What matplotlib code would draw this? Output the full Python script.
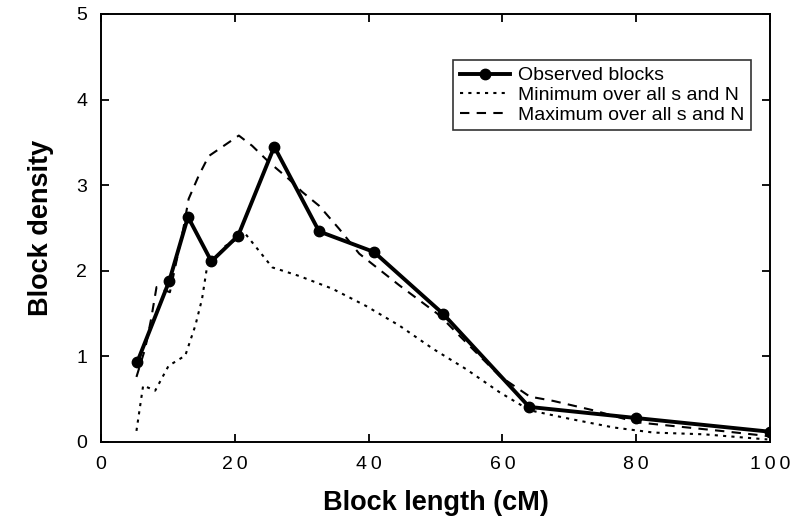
import matplotlib
matplotlib.use("Agg")
import matplotlib.pyplot as plt

plt.rcParams['font.family'] = ['Liberation Sans', 'DejaVu Sans']

# Observed blocks
obs_x = [5.4, 10.2, 13.0, 16.5, 20.5, 25.9, 32.6, 40.8, 51.1, 64.0, 80.0, 100.0]
obs_y = [0.93, 1.88, 2.63, 2.11, 2.41, 3.45, 2.46, 2.22, 1.50, 0.41, 0.28, 0.12]

# Minimum over all s and N (dotted)
min_x = [5.3, 6.3, 8.1, 10.1, 12.6, 14.1, 15.1, 15.8, 18.6, 21.6, 25.6, 29.6, 34.6,
         39.6, 44.6, 49.6, 54.6, 59.6, 64.1, 70.1, 76.6, 82.6, 90.1, 99.6]
min_y = [0.13, 0.66, 0.60, 0.89, 1.01, 1.36, 1.67, 2.02, 2.29, 2.43, 2.04, 1.94, 1.79,
         1.59, 1.36, 1.09, 0.85, 0.58, 0.37, 0.27, 0.17, 0.11, 0.09, 0.03]

# Maximum over all s and N (dashed)
max_x = [5.3, 6.6, 7.5, 8.3, 10.3, 12.3, 13.1, 14.6, 16.1, 17.6, 20.6, 22.6, 25.1,
         28.1, 30.1, 32.6, 35.6, 38.6, 44.6, 50.6, 53.6, 59.6, 64.1, 67.6, 73.6,
         80.1, 87.6, 92.6, 99.6]
max_y = [0.76, 1.09, 1.44, 1.81, 1.75, 2.49, 2.84, 3.11, 3.34, 3.42, 3.58, 3.46, 3.27,
         3.07, 2.92, 2.76, 2.49, 2.20, 1.83, 1.48, 1.24, 0.77, 0.53, 0.48, 0.37,
         0.23, 0.17, 0.13, 0.07]

x_ticks = [0, 20, 40, 60, 80, 100]
x_tick_labels = ['0', '2\u20090', '4\u20090', '6\u20090', '8\u20090', '1\u20090\u20090']
y_ticks = [0, 1, 2, 3, 4, 5]

fig = plt.figure(figsize=(7.97, 5.27), dpi=100)
ax = fig.add_axes([101/797, (527-442)/527, (770-101)/797, (442-14)/527])

ax.plot(obs_x, obs_y, color='black', lw=2.8, marker='o', ms=7.5,
        label='Observed blocks', zorder=3)
ax.plot(min_x, min_y, color='black', lw=1.5, linestyle=(0, (1.5, 2.5)),
        label='Minimum over all s and N', zorder=2)
ax.plot(max_x, max_y, color='black', lw=1.5, linestyle=(0, (4.5, 3.5)),
        label='Maximum over all s and N', zorder=2)

ax.set_xlim(0, 100)
ax.set_ylim(0, 5)
ax.set_xticks(x_ticks)
ax.set_xticklabels(x_tick_labels)
ax.set_yticks(y_ticks)
ax.tick_params(direction='in', length=6, width=1.3, labelsize=14,
               top=True, right=True, pad=10)
for s in ax.spines.values():
    s.set_linewidth(1.4)

ax.set_xlabel('Block length (cM)', fontsize=19.5, fontweight='bold', labelpad=12)
ax.set_ylabel('Block density', fontsize=19.5, fontweight='bold', labelpad=16)

leg = ax.legend(loc='upper left', bbox_to_anchor=((453-101)/669, (442-60)/428),
                fontsize=14, frameon=True, fancybox=False, handlelength=2.6,
                handletextpad=0.4, borderpad=0.35, labelspacing=0.1,
                borderaxespad=0)
leg.get_frame().set_edgecolor('black')
leg.get_frame().set_linewidth(1.2)

fig.savefig('out.png', dpi=100)
